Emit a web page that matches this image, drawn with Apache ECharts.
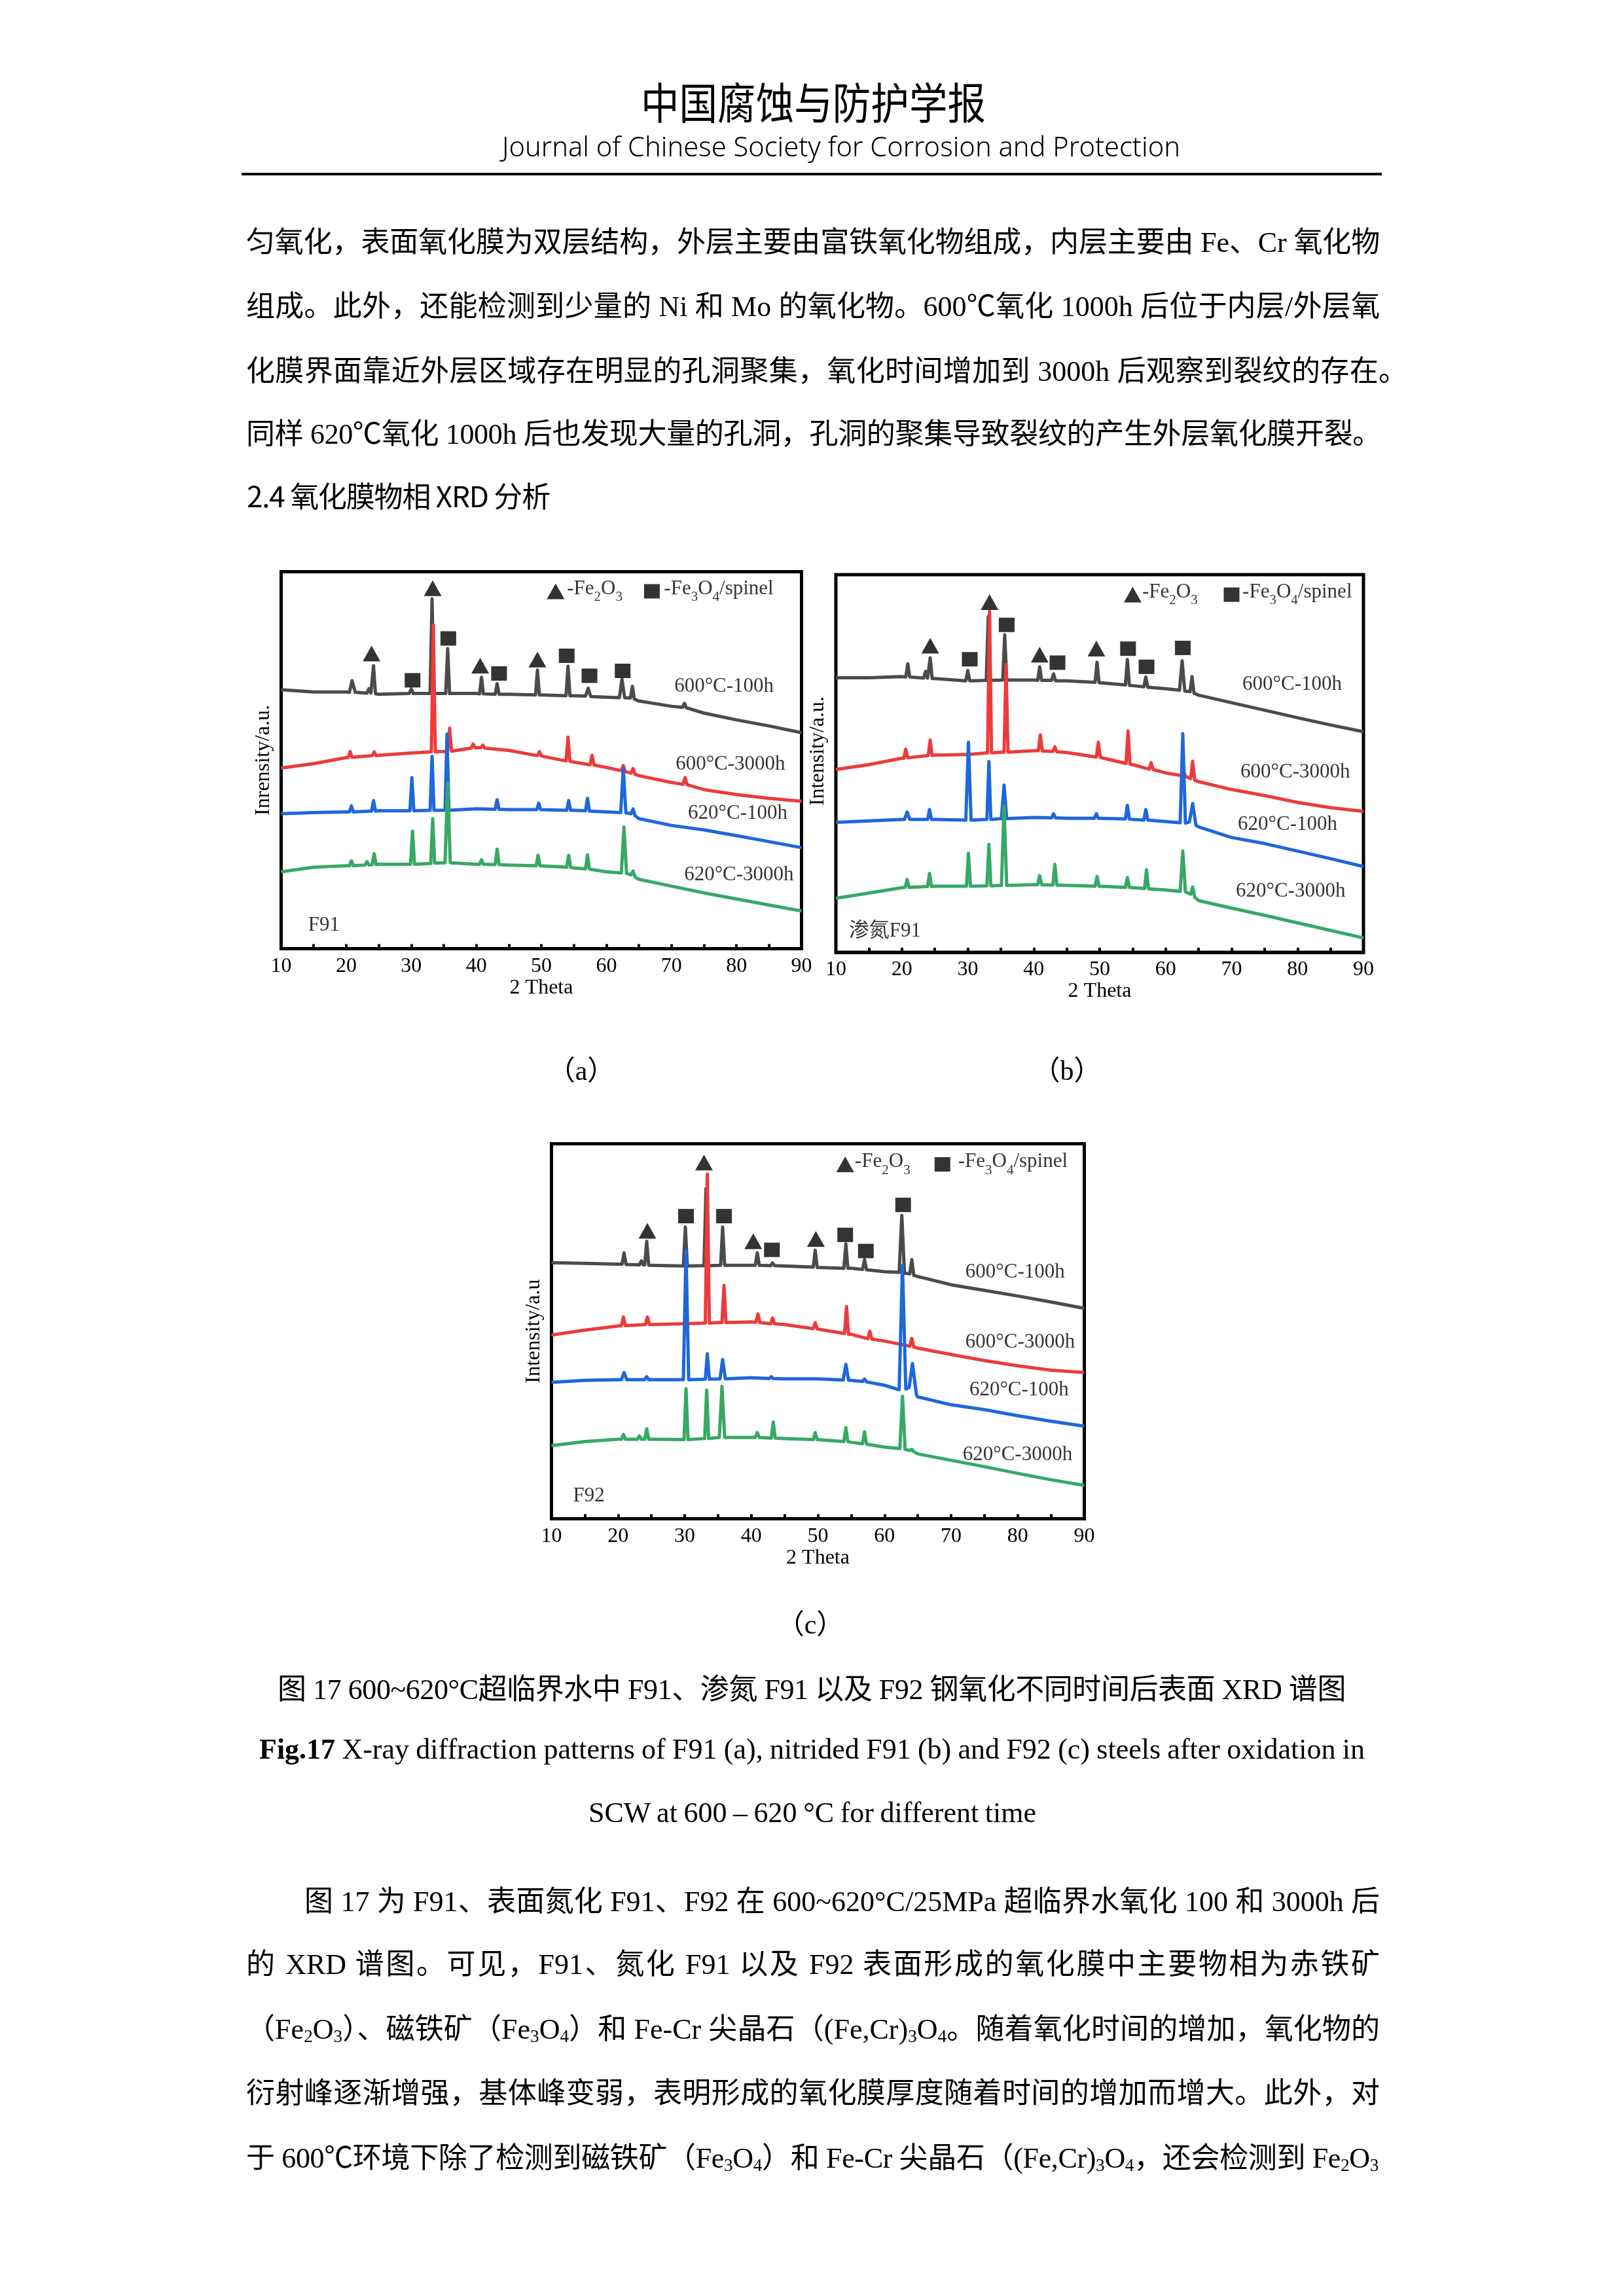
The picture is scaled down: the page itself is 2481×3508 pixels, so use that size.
<!DOCTYPE html>
<html><head><meta charset="utf-8">
<script src="https://cdn.jsdelivr.net/npm/echarts@6/dist/echarts.min.js"></script>
<style>
html,body{margin:0;padding:0;background:#fff;}
#page{position:relative;width:2481px;height:3508px;overflow:hidden;background:#fff;}
#chart{position:absolute;left:0;top:0;width:2481px;height:3508px;z-index:0;}
.t{position:absolute;white-space:nowrap;color:#000;line-height:1;z-index:2;}
.b{font-family:"Liberation Serif","Noto Sans CJK SC",serif;font-size:44px;}
.s{font-family:"Noto Sans CJK SC",sans-serif;}
sub{font-size:0.62em;vertical-align:-0.2em;line-height:0;}
#rule{position:absolute;left:369px;top:264px;width:1742px;height:4px;background:#000;z-index:2;}
</style></head>
<body><div id="page">
<div id="chart"></div>
<div class="t s" style="font-size:66px" data-l="979" data-r="1506" data-cy="157" data-k="0.556" data-m="s">中国腐蚀与防护学报</div>
<div class="t" style="font-family:'Noto Sans',sans-serif;font-size:43px;font-weight:300" data-l="767" data-r="1803" data-cy="226" data-k="0.58" data-m="s">Journal of Chinese Society for Corrosion and Protection</div>
<div id="rule"></div>

<div class="t b" data-l="376" data-r="2108" data-cy="369" data-m="j">匀氧化，表面氧化膜为双层结构，外层主要由富铁氧化物组成，内层主要由 Fe、Cr 氧化物</div>
<div class="t b" data-l="376" data-r="2108" data-cy="467" data-m="j">组成。此外，还能检测到少量的 Ni 和 Mo 的氧化物。600℃氧化 1000h 后位于内层/外层氧</div>
<div class="t b" data-l="376" data-r="2150" data-cy="566" data-m="j">化膜界面靠近外层区域存在明显的孔洞聚集，氧化时间增加到 3000h 后观察到裂纹的存在。</div>
<div class="t b" data-l="376" data-r="2110" data-cy="662" data-m="j">同样 620℃氧化 1000h 后也发现大量的孔洞，孔洞的聚集导致裂纹的产生外层氧化膜开裂。</div>
<div class="t s" style="font-size:44px" data-l="377" data-r="840" data-cy="758" data-k="0.556" data-m="j">2.4 氧化膜物相 XRD 分析</div>

<div class="t b" style="font-size:42px" data-l="858" data-r="918" data-cy="1634" data-m="c">（a）</div>
<div class="t b" style="font-size:42px" data-l="1600" data-r="1660" data-cy="1634" data-m="c">（b）</div>
<div class="t b" style="font-size:42px" data-l="1208" data-r="1268" data-cy="2480" data-m="c">（c）</div>

<div class="t b" data-l="424" data-r="2056" data-cy="2580" data-m="j">图 17 600~620°C超临界水中 F91、渗氮 F91 以及 F92 钢氧化不同时间后表面 XRD 谱图</div>
<div class="t b" data-l="396" data-r="2085" data-cy="2677" data-k="0.6" data-m="w"><b>Fig.17</b> X-ray diffraction patterns of F91 (a), nitrided F91 (b) and F92 (c) steels after oxidation in</div>
<div class="t b" data-l="899" data-r="1583" data-cy="2774" data-k="0.6" data-m="w">SCW at 600 – 620 °C for different time</div>

<div class="t b" data-l="465" data-r="2108" data-cy="2904" data-m="j">图 17 为 F91、表面氮化 F91、F92 在 600~620°C/25MPa 超临界水氧化 100 和 3000h 后</div>
<div class="t b" data-l="376" data-r="2108" data-cy="3000" data-m="j">的 XRD 谱图。可见，F91、氮化 F91 以及 F92 表面形成的氧化膜中主要物相为赤铁矿</div>
<div class="t b" data-l="376" data-r="2108" data-cy="3099" data-m="j">（Fe<sub>2</sub>O<sub>3</sub>）、磁铁矿（Fe<sub>3</sub>O<sub>4</sub>）和 Fe-Cr 尖晶石（(Fe,Cr)<sub>3</sub>O<sub>4</sub>。随着氧化时间的增加，氧化物的</div>
<div class="t b" data-l="376" data-r="2108" data-cy="3197" data-m="j">衍射峰逐渐增强，基体峰变弱，表明形成的氧化膜厚度随着时间的增加而增大。此外，对</div>
<div class="t b" data-l="376" data-r="2106" data-cy="3296" data-m="j">于 600℃环境下除了检测到磁铁矿（Fe<sub>3</sub>O<sub>4</sub>）和 Fe-Cr 尖晶石（(Fe,Cr)<sub>3</sub>O<sub>4</sub>，还会检测到 Fe<sub>2</sub>O<sub>3</sub></div>
</div>
<script>
// ---------------- DATA ----------------
const X_MIN = 10, X_MAX = 90, X_STEP = 10;
const CURVE_NAMES = ['600°C-100h', '600°C-3000h', '620°C-100h', '620°C-3000h'];
const SAMPLE_NAMES = ['F91', '渗氮F91', 'F92'];
const Y_NAMES = ['Inrensity/a.u.', 'Intensity/a.u.', 'Intensity/a.u'];
const LEGEND_TEXT = ['{n|-Fe}{s|2}{n|O}{s|3}', '{n|-Fe}{s|3}{n|O}{s|4}{n|/spinel}'];

// (a) F91
const F91_600_100 = [[10,68.7],[15,68.1],[20,68.1],[20.5,68.0],[20.9,71.1],[21.4,68.0],[23.2,67.8],[23.5,69.0],[23.8,67.8],[24.0,67.7],[24.2,75.1],[24.5,67.6],[25,67.5],[29.7,67.7],[30.0,68.9],[30.3,67.7],[32.9,67.7],[33.2,92.8],[33.5,67.7],[35.3,67.7],[35.6,79.6],[35.9,67.7],[40,67.7],[40.5,67.6],[40.8,72.0],[41.1,67.6],[42.9,67.5],[43.2,70.3],[43.5,67.5],[45,67.5],[49.1,67.3],[49.4,73.9],[49.7,67.3],[50,67.3],[53.8,67.1],[54.1,74.9],[54.4,67.1],[55,67.1],[56.8,67.0],[57.2,69.1],[57.6,66.9],[60,66.7],[62.0,66.6],[62.4,71.5],[62.8,66.6],[63.7,66.5],[64.0,69.6],[64.3,66.2],[65,65.7],[70,64.3],[71.7,64.0],[72.0,65.1],[72.3,63.9],[75,62.5],[80,60.7],[85,59.1],[90,57.3]];
const F91_600_3000 = [[10,47.9],[15,49.1],[20,50.7],[20.3,50.7],[20.6,52.3],[20.9,50.8],[24.0,51.2],[24.3,52.2],[24.6,51.2],[25,51.3],[30,51.9],[33.1,52.2],[33.4,85.9],[33.7,52.2],[35,52.3],[35.6,52.4],[35.9,58.5],[36.2,52.4],[39.2,53.2],[39.5,54.3],[39.8,53.3],[40,53.4],[40.7,53.3],[41.0,54.0],[41.3,53.2],[45,52.6],[49.4,51.2],[49.7,52.3],[50.0,51.1],[53.8,49.8],[54.1,56.1],[54.4,49.7],[55,49.5],[57.5,48.8],[57.8,51.3],[58.1,48.7],[60,48.1],[62.3,47.2],[62.6,48.6],[62.9,47.0],[63.8,46.6],[64.1,47.8],[64.4,46.3],[65,45.9],[70,44.1],[71.8,43.6],[72.1,45.4],[72.4,43.5],[75,42.2],[80,40.9],[85,39.9],[90,39.1]];
const F91_620_100 = [[10,35.8],[15,36.1],[20,36.3],[20.5,36.3],[20.8,37.9],[21.1,36.3],[23.9,36.5],[24.2,39.3],[24.5,36.5],[25,36.6],[29.8,36.6],[30.1,45.4],[30.4,36.6],[32.9,36.7],[33.2,51.0],[33.5,36.7],[35.2,36.7],[35.5,56.9],[35.8,36.7],[40,37.1],[42.9,37.0],[43.2,39.5],[43.5,37.0],[45,36.9],[49.3,36.9],[49.6,38.6],[49.9,36.9],[50,36.9],[53.9,36.7],[54.2,39.3],[54.5,36.7],[55,36.7],[56.8,36.6],[57.1,39.9],[57.4,36.5],[60,36.3],[62.2,36.1],[62.6,47.8],[63.0,36.0],[63.8,35.8],[64.1,37.1],[64.4,35.3],[65,34.5],[70,32.7],[75,31.5],[80,30.0],[85,28.4],[90,26.8]];
const F91_620_3000 = [[10,20.4],[15,21.6],[20,22.0],[20.5,22.0],[20.8,23.3],[21.1,22.0],[22.9,22.2],[23.2,23.1],[23.5,22.2],[24.0,22.3],[24.3,25.2],[24.6,22.3],[25,22.4],[29.9,22.4],[30.2,31.2],[30.5,22.4],[33.0,22.6],[33.3,34.5],[33.6,22.7],[35.2,22.8],[35.6,43.9],[36.0,22.8],[40,22.4],[40.5,22.4],[40.8,23.6],[41.1,22.4],[42.9,22.3],[43.2,26.4],[43.5,22.3],[45,22.2],[49.2,22.0],[49.5,24.8],[49.8,22.0],[50,22.0],[53.9,21.6],[54.2,24.8],[54.5,21.6],[55,21.4],[56.8,21.2],[57.1,24.9],[57.4,21.1],[60,20.4],[62.3,20.1],[62.7,32.3],[63.1,20.0],[63.8,19.6],[64.1,20.6],[64.4,19.0],[65,18.4],[70,16.6],[75,14.8],[80,13.2],[85,11.6],[90,10.0]];
const F91_TRI = [[23.9,78.3],[33.3,95.6],[40.6,75.1],[49.4,76.7]];
const F91_SQ = [[30.2,71.2],[35.7,82.3],[43.5,73.0],[53.9,77.7],[57.4,72.4],[62.5,73.7]];
const F91_LABEL_POS = [[70.4,69.5],[70.6,48.9],[72.5,35.8],[71.9,19.6],[14.1,6.2]];
const F91_LEGEND_POS = [[52.2,94.8],[53.9,94.8],[67.0,94.8],[68.8,94.8]];

// (b) nitrided F91
const NF91_600_100 = [[10,72.7],[15,72.7],[20,73.0],[20.6,72.9],[20.9,76.4],[21.2,72.9],[23.3,72.6],[23.6,74.4],[23.9,72.6],[24.0,72.6],[24.3,78.0],[24.6,72.5],[25,72.5],[29.7,71.9],[30.0,74.6],[30.3,71.9],[32.8,72.0],[33.1,88.9],[33.4,72.0],[35.3,72.1],[35.6,84.1],[35.9,72.1],[40,72.1],[40.6,72.0],[40.9,75.6],[41.2,72.0],[42.7,72.0],[43.0,73.7],[43.3,71.9],[45,71.9],[49.3,71.5],[49.6,76.8],[49.9,71.4],[50,71.4],[53.9,70.8],[54.2,77.5],[54.5,70.7],[55,70.6],[56.7,70.3],[57.0,72.9],[57.3,70.2],[60,69.8],[62.1,69.4],[62.5,77.2],[62.9,69.2],[63.7,69.0],[64.0,73.0],[64.3,68.6],[65,68.1],[70,66.1],[75,64.1],[80,62.1],[85,60.2],[90,58.4]];
const NF91_600_3000 = [[10,48.4],[15,49.7],[20,51.4],[20.3,51.4],[20.6,53.8],[20.9,51.5],[24.0,52.1],[24.3,56.2],[24.6,52.1],[25,52.2],[30,52.4],[33.0,52.8],[33.3,90.3],[33.6,52.8],[35,53.0],[35.5,53.0],[35.8,76.2],[36.1,53.0],[40,53.4],[40.7,53.4],[41.0,57.6],[41.3,53.3],[42.9,53.2],[43.2,54.4],[43.5,53.1],[45,52.9],[49.5,51.7],[49.8,55.6],[50.1,51.6],[54.0,50.0],[54.3,58.6],[54.6,49.8],[55,49.7],[57.5,48.5],[57.8,50.2],[58.1,48.4],[60,47.5],[62.4,46.8],[62.7,48.3],[63.0,46.6],[63.8,46.0],[64.1,50.6],[64.4,45.6],[65,45.2],[70,43.1],[75,41.5],[80,39.7],[85,38.3],[90,37.3]];
const NF91_620_100 = [[10,34.4],[15,34.8],[20,35.2],[20.4,35.2],[20.8,37.1],[21.2,35.2],[23.9,35.2],[24.2,37.8],[24.5,35.2],[25,35.2],[29.7,35.0],[30.1,55.6],[30.5,35.0],[32.9,35.2],[33.2,50.5],[33.5,35.2],[35.1,35.4],[35.5,44.3],[35.9,35.4],[40,35.7],[42.7,35.6],[43.0,36.7],[43.3,35.6],[45,35.5],[49.2,35.5],[49.5,36.7],[49.8,35.5],[50,35.5],[53.9,35.3],[54.2,38.9],[54.5,35.3],[55,35.2],[56.7,35.0],[57.0,37.8],[57.3,35.0],[60,34.6],[62.2,34.3],[62.6,57.9],[63.0,34.2],[63.6,34.5],[64.1,39.4],[64.6,33.6],[65,33.2],[70,30.4],[75,28.8],[80,26.8],[85,24.8],[90,22.7]];
const NF91_620_3000 = [[10,14.3],[15,15.7],[20,17.1],[20.5,17.2],[20.8,19.3],[21.1,17.2],[23.9,17.4],[24.2,20.9],[24.5,17.4],[25,17.5],[29.8,17.5],[30.1,26.2],[30.4,17.5],[32.9,17.6],[33.2,28.6],[33.5,17.6],[35.1,17.7],[35.5,38.7],[35.9,17.7],[40,17.9],[40.6,17.9],[40.9,20.3],[41.2,17.9],[42.9,17.8],[43.2,23.3],[43.5,17.8],[45,17.7],[49.3,17.5],[49.6,20.1],[49.9,17.5],[50,17.5],[53.9,17.2],[54.2,19.8],[54.5,17.2],[55,17.1],[56.8,16.9],[57.1,21.9],[57.4,16.8],[60,16.5],[62.2,16.1],[62.6,26.8],[63.0,16.0],[63.8,15.4],[64.1,17.3],[64.4,14.6],[65,13.7],[70,11.7],[75,9.8],[80,7.8],[85,5.8],[90,3.8]];
const NF91_TRI = [[24.3,81.2],[33.3,92.7],[40.9,78.8],[49.5,80.4]];
const NF91_SQ = [[30.3,77.6],[35.9,86.7],[43.6,76.7],[54.3,80.4],[57.1,75.6],[62.6,80.6]];
const NF91_LABEL_POS = [[71.6,70.9],[71.3,47.7],[70.9,33.8],[70.6,16.1],[11.9,5.6]];
const NF91_LEGEND_POS = [[55.0,94.7],[56.4,94.7],[70.0,94.7],[71.6,94.7]];

// (c) F92
const F92_600_100 = [[10,68.3],[15,68.1],[20,67.9],[20.6,67.9],[20.9,70.9],[21.2,67.8],[23.2,67.7],[23.5,68.8],[23.8,67.7],[24.0,67.7],[24.3,74.0],[24.6,67.6],[25,67.6],[29.8,67.4],[30.1,77.8],[30.4,67.4],[32.9,67.5],[33.2,88.0],[33.5,67.5],[35.4,67.6],[35.7,77.8],[36.0,67.6],[40,67.6],[40.6,67.6],[40.9,70.9],[41.2,67.6],[42.9,67.5],[43.2,68.2],[43.5,67.5],[45,67.4],[49.3,67.1],[49.6,71.6],[49.9,67.0],[50,67.0],[53.9,66.8],[54.2,73.3],[54.5,66.8],[55,66.8],[56.7,66.5],[57.0,69.1],[57.3,66.4],[60,65.9],[62.2,65.7],[62.6,80.9],[63.0,65.5],[63.8,65.3],[64.1,69.1],[64.4,64.9],[65,64.6],[70,62.4],[75,60.9],[80,59.4],[85,57.8],[90,56.1]];
const F92_600_3000 = [[10,49.0],[15,50.3],[20,51.4],[20.5,51.5],[20.8,53.8],[21.1,51.5],[24.1,51.8],[24.4,53.8],[24.7,51.8],[25,51.8],[30,52.0],[33.1,52.2],[33.4,91.9],[33.7,52.2],[35,52.3],[35.6,52.3],[35.9,62.2],[36.2,52.3],[40,52.5],[40.7,52.4],[41.0,54.6],[41.3,52.3],[42.9,52.0],[43.2,53.5],[43.5,52.0],[45,51.8],[49.3,50.7],[49.6,52.3],[49.9,50.6],[50,50.6],[54.0,49.4],[54.3,56.6],[54.6,49.2],[55,49.2],[57.5,48.0],[57.8,50.0],[58.1,47.9],[60,47.4],[63.8,46.0],[64.1,48.1],[64.4,45.8],[65,45.5],[70,43.8],[75,42.2],[80,40.8],[85,39.6],[90,39.0]];
const F92_620_100 = [[10,36.4],[15,36.9],[20,37.1],[20.5,37.1],[20.9,39.0],[21.3,37.1],[24.0,37.1],[24.3,37.9],[24.6,37.1],[25,37.1],[29.8,37.1],[30.2,71.6],[30.6,37.1],[33.1,37.2],[33.4,44.0],[33.7,37.2],[35.3,37.3],[35.7,42.5],[36.1,37.3],[40,37.6],[42.7,37.4],[43.0,37.9],[43.3,37.4],[45,37.3],[50,37.3],[53.8,37.0],[54.2,41.2],[54.6,37.0],[55,36.9],[56.7,36.6],[57.0,37.3],[57.3,36.5],[60,35.6],[62.2,34.4],[62.7,67.6],[63.2,34.6],[63.7,35.0],[64.2,41.4],[64.8,33.0],[65,32.5],[70,30.4],[75,29.1],[80,27.5],[85,26.0],[90,24.7]];
const F92_620_3000 = [[10,19.5],[15,20.6],[20,21.2],[20.5,21.2],[20.8,22.5],[21.1,21.2],[22.9,21.2],[23.2,22.1],[23.5,21.2],[24.0,21.2],[24.3,24.0],[24.6,21.2],[25,21.2],[29.9,21.1],[30.2,34.7],[30.5,21.1],[33.0,21.4],[33.3,34.3],[33.6,21.4],[35.2,21.7],[35.6,35.3],[36.0,21.7],[40,21.7],[40.6,21.7],[40.9,23.0],[41.2,21.7],[43.0,21.5],[43.3,25.8],[43.6,21.5],[45,21.4],[49.3,21.1],[49.6,23.0],[49.9,21.1],[50,21.1],[53.9,20.6],[54.2,24.3],[54.5,20.6],[55,20.4],[56.7,20.0],[57.0,23.2],[57.3,19.9],[60,19.1],[62.3,18.7],[62.7,32.7],[63.1,18.5],[63.8,18.2],[64.1,18.5],[64.4,17.9],[65,17.3],[70,15.6],[75,13.9],[80,12.1],[85,10.4],[90,8.9]];
const F92_TRI = [[24.4,76.8],[32.9,95.0],[40.3,74.0],[49.7,74.6]];
const F92_SQ = [[30.2,80.7],[35.9,80.7],[43.1,71.7],[54.1,75.7],[57.2,71.4],[62.8,83.7]];
const F92_LABEL_POS = [[72.1,65.7],[72.1,47.1],[72.7,34.4],[71.7,17.1],[13.2,6.1]];
const F92_LEGEND_POS = [[54.1,94.5],[55.5,94.5],[68.7,94.5],[71.0,94.5]];

// ---------------- STYLE / LAYOUT ----------------
const COLORS = ['#4b4b4b', '#ec3b3b', '#1e67dc', '#37a865'];
const FONT = '"Liberation Serif", "Noto Sans CJK SC", serif';
const GRIDS = [
  {left: 429.5, top: 873.5, width: 795, height: 576},
  {left: 1277, top: 878, width: 806, height: 577},
  {left: 842.5, top: 1747.5, width: 814, height: 573}
];
const PANELS = [
  {curves: [F91_600_100, F91_600_3000, F91_620_100, F91_620_3000], tri: F91_TRI, sq: F91_SQ, labels: F91_LABEL_POS, legend: F91_LEGEND_POS},
  {curves: [NF91_600_100, NF91_600_3000, NF91_620_100, NF91_620_3000], tri: NF91_TRI, sq: NF91_SQ, labels: NF91_LABEL_POS, legend: NF91_LEGEND_POS},
  {curves: [F92_600_100, F92_600_3000, F92_620_100, F92_620_3000], tri: F92_TRI, sq: F92_SQ, labels: F92_LABEL_POS, legend: F92_LEGEND_POS}
];
const YNAME_PAD = [[0,0,0,0],[0,0,0,38],[0,0,0,0]];

const grid = [], xAxis = [], yAxis = [], series = [];
PANELS.forEach((p, i) => {
  grid.push(Object.assign({show: true, borderColor: '#000', borderWidth: 5, backgroundColor: 'transparent', containLabel: false, outerBoundsMode: 'none'}, GRIDS[i]));
  xAxis.push({
    gridIndex: i, type: 'value', min: X_MIN, max: X_MAX, interval: X_STEP,
    axisLine: {show: true, lineStyle: {color: '#000', width: 5}},
    axisTick: {show: true, inside: true, length: 7, lineStyle: {color: '#000', width: 4}},
    minorTick: {show: true, splitNumber: 2, length: 7, lineStyle: {color: '#000', width: 4}},
    splitLine: {show: false}, minorSplitLine: {show: false},
    axisLabel: {color: '#000', fontSize: 32, fontFamily: FONT, margin: 11},
    name: '2 Theta', nameLocation: 'middle', nameGap: 43,
    nameTextStyle: {color: '#000', fontSize: 32, fontFamily: FONT}
  });
  yAxis.push({
    gridIndex: i, type: 'value', min: 0, max: 100,
    axisLine: {show: false}, axisTick: {show: false}, axisLabel: {show: false}, splitLine: {show: false},
    name: Y_NAMES[i], nameLocation: 'middle', nameGap: 11,
    nameTextStyle: {color: '#000', fontSize: 32, fontFamily: FONT, padding: YNAME_PAD[i]}
  });
  p.curves.forEach((d, k) => {
    series.push({type: 'line', name: CURVE_NAMES[k], xAxisIndex: i, yAxisIndex: i, data: d,
      symbol: 'none', showSymbol: false, smooth: false, z: 2 + k,
      lineStyle: {color: COLORS[k], width: 5, join: 'round'}, itemStyle: {color: COLORS[k]}, silent: true});
  });
  series.push({type: 'scatter', xAxisIndex: i, yAxisIndex: i, data: p.tri, symbol: 'triangle', symbolSize: [27, 24], itemStyle: {color: '#000'}, z: 10, silent: true});
  series.push({type: 'scatter', xAxisIndex: i, yAxisIndex: i, data: p.sq, symbol: 'rect', symbolSize: [24, 22], itemStyle: {color: '#000'}, z: 10, silent: true});
  // legend symbols
  series.push({type: 'scatter', xAxisIndex: i, yAxisIndex: i, data: [p.legend[0]], symbol: 'triangle', symbolSize: [27, 24], itemStyle: {color: '#000'}, z: 10, silent: true});
  series.push({type: 'scatter', xAxisIndex: i, yAxisIndex: i, data: [p.legend[2]], symbol: 'rect', symbolSize: [24, 22], itemStyle: {color: '#000'}, z: 10, silent: true});
  // legend texts
  series.push({type: 'scatter', xAxisIndex: i, yAxisIndex: i, symbolSize: 1, itemStyle: {color: 'rgba(0,0,0,0)'}, z: 11, silent: true,
    data: [{value: p.legend[1], name: LEGEND_TEXT[0]}, {value: p.legend[3], name: LEGEND_TEXT[1]}],
    label: {show: true, position: 'right', distance: 0, formatter: '{b}', color: '#000', fontSize: 31, fontFamily: FONT,
      rich: {
        n: {fontSize: 31, fontFamily: FONT, color: '#000', verticalAlign: 'bottom', padding: [0, 0, 8, 0]},
        s: {fontSize: 21, fontFamily: FONT, color: '#000', verticalAlign: 'bottom', padding: [0, 0, 0, 0]}
      }}
  });
  // curve labels + sample name
  const names = CURVE_NAMES.concat([SAMPLE_NAMES[i]]);
  series.push({type: 'scatter', xAxisIndex: i, yAxisIndex: i, symbolSize: 1, itemStyle: {color: 'rgba(0,0,0,0)'}, z: 11, silent: true,
    data: p.labels.map((pos, k) => ({value: pos, name: names[k]})),
    label: {show: true, position: 'right', distance: 0, formatter: '{b}', color: '#000', fontSize: 31, fontFamily: FONT}
  });
});

const chart = echarts.init(document.getElementById('chart'), null, {renderer: 'canvas', width: 2481, height: 3508});
chart.setOption({
  animation: false, backgroundColor: 'transparent',
  textStyle: {fontFamily: FONT, color: '#000'},
  grid, xAxis, yAxis, series
});

// ---------------- TEXT LAYOUT ----------------
function layoutText() {
  document.querySelectorAll('[data-cy]').forEach(el => {
    const fs = parseFloat(getComputedStyle(el).fontSize);
    const k = parseFloat(el.dataset.k || 0.46);
    const l = parseFloat(el.dataset.l), r = parseFloat(el.dataset.r);
    const target = r - l;
    el.style.left = l + 'px';
    el.style.top = (parseFloat(el.dataset.cy) - k * fs) + 'px';
    const w = el.getBoundingClientRect().width;
    const m = el.dataset.m;
    if (m === 'j') {
      if (w <= target - 3) {
        el.style.width = target + 'px';
        el.style.whiteSpace = 'normal';
        el.style.textAlign = 'justify';
        el.style.textAlignLast = 'justify';
      } else {
        el.style.letterSpacing = ((target - w) / el.textContent.length) + 'px';
      }
    } else if (m === 'w') {
      const n = (el.textContent.match(/ /g) || []).length;
      if (n > 0) el.style.wordSpacing = ((target - w) / n) + 'px';
    } else if (m === 's') {
      el.style.transformOrigin = '0 50%';
      el.style.transform = 'scaleX(' + (target / w) + ')';
    } else if (m === 'c') {
      el.style.left = ((l + r) / 2 - w / 2) + 'px';
    }
  });
}
if (document.fonts && document.fonts.ready) { document.fonts.ready.then(layoutText); } else { layoutText(); }
</script>
</body></html>
